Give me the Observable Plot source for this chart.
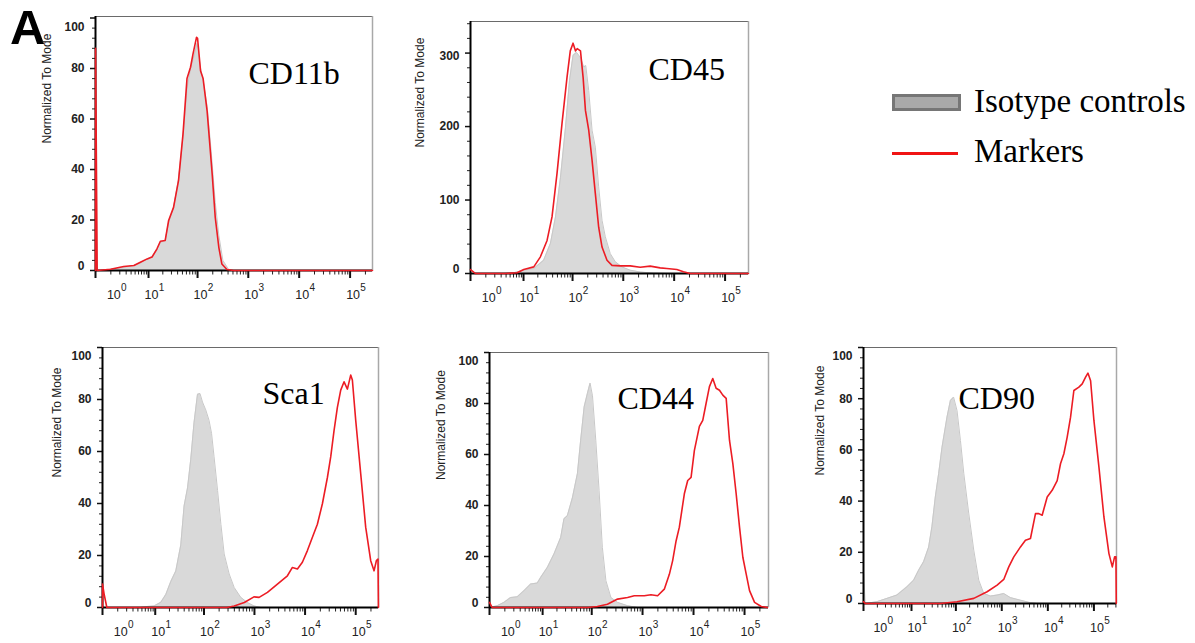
<!DOCTYPE html>
<html><head><meta charset="utf-8">
<script src="https://cdn.jsdelivr.net/npm/d3@7"></script>
<script src="https://cdn.jsdelivr.net/npm/@observablehq/plot@0.6"></script>
<style>
html,body{margin:0;padding:0;background:#fff;}
#fig{position:relative;width:1195px;height:643px;overflow:hidden;background:#fff;}
#fig .panel{position:absolute;}
.lbl{position:absolute;white-space:nowrap;color:#000;}
.serif{font-family:'Liberation Serif','Times New Roman',Times,serif;font-size:33px;line-height:33px;}
</style></head><body><div id="fig"></div>
<script>
// ---- data: [log10 fluorescence intensity, normalized count] ----
const cd11bIsotype = [[-0.6,0],[-0.01,0.5],[0.41,1.2],[0.67,2],[0.82,3],[0.97,4.5],[1.075,5.5],[1.18,8.5],[1.25,11],[1.35,12],[1.42,19],[1.52,25],[1.62,36],[1.71,53],[1.79,72],[1.86,80],[1.93,85],[1.99,90],[2.06,80],[2.12,74],[2.19,65],[2.27,47],[2.35,27],[2.42,14],[2.5,4],[2.61,0.5],[2.71,0]];
const cd11bMarker = [[-3,0],[-2.6,88],[-1.1,0],[-0.01,0.5],[0.41,1.6],[0.67,2],[0.82,3.3],[0.97,4.6],[1.075,5.3],[1.18,8.6],[1.25,11.6],[1.35,11.9],[1.42,19.8],[1.52,25],[1.62,35.6],[1.71,54],[1.79,76],[1.86,80.5],[1.91,85.8],[1.98,92.4],[2.0,92],[2.06,79],[2.11,76],[2.19,63],[2.29,38],[2.35,21],[2.42,9.2],[2.48,2.6],[2.58,0.4],[2.71,0],[5.44,0]];

const cd45Isotype = [[0.55,0],[0.784,1],[1.005,4.5],[1.217,6.8],[1.42,18],[1.558,41],[1.66,77],[1.76,131],[1.86,199],[1.94,263],[2.01,297],[2.078,301],[2.157,294],[2.222,281],[2.261,283],[2.32,249],[2.386,195],[2.45,172],[2.516,118],[2.582,72.5],[2.647,50],[2.745,27],[2.843,16],[2.974,9],[3.137,4.5],[3.333,2],[3.595,0.5],[3.856,0]];
const cd45Marker = [[-3,5.4],[-0.6,0],[0.585,0],[0.859,1],[1.005,5.4],[1.217,9],[1.354,22.7],[1.49,45],[1.59,77],[1.69,136],[1.79,204],[1.89,267],[1.955,303],[2.01,313.5],[2.059,303],[2.092,306],[2.157,303],[2.209,267],[2.255,222],[2.32,195],[2.386,154],[2.45,109],[2.516,63],[2.582,36],[2.68,18],[2.778,11],[2.941,10.4],[3.137,10.4],[3.333,8.6],[3.529,10],[3.725,7.7],[3.856,6.8],[4.052,5.4],[4.183,2.3],[4.314,0],[5.46,0]];

const sca1Isotype = [[0.67,0],[0.828,0.4],[0.977,0.6],[1.12,2],[1.225,5],[1.329,10],[1.431,14],[1.533,24],[1.6,39],[1.67,46],[1.735,57],[1.8,71],[1.87,82],[1.92,82.3],[1.97,79],[2.035,76],[2.1,72],[2.15,67],[2.2,58],[2.27,45],[2.336,32],[2.401,20.6],[2.5,12.9],[2.599,7.7],[2.73,3.9],[2.862,1.9],[2.993,0.6],[3.125,0]];
const sca1Marker = [[-3,0],[-2.6,9],[-1.1,5],[-0.66,0],[2.46,0],[2.6,0.6],[2.8,1.9],[2.99,4.1],[3.092,3.9],[3.257,5.8],[3.454,9],[3.651,12.2],[3.75,15.4],[3.849,14.8],[3.947,17.4],[4.046,21.9],[4.145,27],[4.243,32],[4.342,39.9],[4.441,50],[4.507,58],[4.572,68],[4.638,77],[4.704,83.6],[4.77,86.8],[4.836,84],[4.901,89.4],[4.934,87.5],[5.0,72],[5.099,51.4],[5.197,30.9],[5.296,18],[5.362,14.1],[5.408,18],[5.44,18.6],[5.449,0]];

const cd44Isotype = [[-3,0],[-2.6,97],[-1.6,0],[-0.38,0.7],[-0.04,2],[0.2,3.9],[0.398,4.2],[0.572,6.6],[0.732,9.2],[0.884,9.6],[0.957,11.8],[1.1,15.7],[1.24,21],[1.378,27.5],[1.445,34.8],[1.513,36],[1.615,43],[1.715,52.5],[1.78,65.6],[1.85,78.7],[1.915,84],[1.967,88],[2.015,83],[2.08,65.6],[2.145,46],[2.21,23.6],[2.28,10.5],[2.379,3.9],[2.51,2],[2.706,0.7],[2.903,0]];
const cd44Marker = [[-3,2],[-0.9,0],[1.915,0],[2.11,0.4],[2.31,1.3],[2.51,3.3],[2.706,3.9],[2.837,4.6],[3.034,4.6],[3.165,5],[3.296,4.6],[3.427,7.2],[3.526,13],[3.591,18.4],[3.657,26],[3.722,31.5],[3.82,44.6],[3.886,49.8],[3.952,51],[4.017,61.6],[4.115,71],[4.181,73.4],[4.246,80],[4.312,86.6],[4.377,89.8],[4.443,86],[4.509,85.2],[4.574,83.3],[4.64,82],[4.705,65.6],[4.771,56.4],[4.836,44.6],[4.902,31.5],[4.967,19.7],[5.033,13.1],[5.098,6.6],[5.197,2],[5.328,0.4],[5.45,0]];

const cd90Isotype = [[-3,0],[-2.6,11.7],[-1.05,0],[-0.02,0.7],[0.345,2],[0.634,3.3],[0.889,6.5],[1.05,9.1],[1.167,13],[1.281,16.3],[1.396,22],[1.47,30],[1.546,41.6],[1.62,50.7],[1.695,61],[1.805,72.8],[1.88,79.3],[1.95,80.6],[2.025,75.4],[2.1,63.7],[2.174,50.7],[2.283,35],[2.391,20.8],[2.5,9.1],[2.609,3.9],[2.754,2.9],[2.899,3.3],[3.043,3.9],[3.188,2.3],[3.406,1.3],[3.623,0.3],[3.768,0]];
const cd90Marker = [[-3,0.7],[-1.05,0],[1.66,0],[2.025,0.7],[2.391,2],[2.681,4.6],[2.899,7.2],[3.043,9.4],[3.152,14.3],[3.261,18.2],[3.406,22.1],[3.514,24.7],[3.623,25.4],[3.732,35.1],[3.804,35.1],[3.877,34.5],[3.986,41.6],[4.094,44.2],[4.203,48],[4.275,54.6],[4.348,58.5],[4.42,65],[4.493,72.8],[4.565,83.2],[4.674,84.5],[4.746,85.8],[4.819,88.4],[4.87,90],[4.928,87],[5.0,71.5],[5.109,53.3],[5.217,33.8],[5.326,19.5],[5.399,14.3],[5.449,18.2],[5.478,18.2],[5.485,0]];

// ---- labels / ticks ----
const panelNames = ["CD11b", "CD45", "Sca1", "CD44", "CD90"];
const xTickExponents = [0, 1, 2, 3, 4, 5];
const yTicksPercent = [0, 20, 40, 60, 80, 100];
const yTicksCD45 = [0, 100, 200, 300];
const yAxisTitle = "Normalized To Mode";
const legendLabels = ["Isotype controls", "Markers"];
const panelLetter = "A";

// ---- layout (pixels) ----
const layout = [
  {iso: cd11bIsotype, mk: cd11bMarker, left: 95, top: 16, w: 277, h: 254, yMax: 100.6, xMaxExp: 5.44, yTicks: yTicksPercent, yMinorStep: 4, titleX: 248, titleY: 83, labelDx: 48},
  {iso: cd45Isotype, mk: cd45Marker, left: 470, top: 21, w: 278, h: 252, yMax: 343, xMaxExp: 5.46, yTicks: yTicksCD45, yMinorStep: 20, titleX: 648, titleY: 79, labelDx: 50},
  {iso: sca1Isotype, mk: sca1Marker, left: 102, top: 347, w: 276, h: 260, yMax: 100, xMaxExp: 5.45, yTicks: yTicksPercent, yMinorStep: 4, titleX: 262, titleY: 403, labelDx: 45},
  {iso: cd44Isotype, mk: cd44Marker, left: 489, top: 352, w: 279, h: 255, yMax: 100, xMaxExp: 5.47, yTicks: yTicksPercent, yMinorStep: 4, titleX: 617, titleY: 408, labelDx: 48},
  {iso: cd90Isotype, mk: cd90Marker, left: 863, top: 347, w: 253, h: 256, yMax: 100, xMaxExp: 5.49, yTicks: yTicksPercent, yMinorStep: 4, titleX: 958, titleY: 408, labelDx: 43}
];

const fig = document.getElementById("fig");
const sansFont = "'Liberation Sans', Arial, Helvetica, sans-serif";
const serifFont = "'Liberation Serif', 'Times New Roman', Times, serif";
const RED = "#ec1c24";

function addDiv(cls, css, text) {
  const d = document.createElement("div");
  d.className = cls;
  Object.assign(d.style, css);
  if (text != null) d.textContent = text;
  fig.appendChild(d);
  return d;
}
addDiv("lbl", {left: "10px", top: "3px", fontFamily: sansFont, fontWeight: "bold", fontSize: "49px", lineHeight: "49px"}, panelLetter);
addDiv("lbl", {left: "892px", top: "94px", width: "69px", height: "17px", boxSizing: "border-box", background: "#a9a9a9", border: "3px solid #767676"});
addDiv("lbl", {left: "892px", top: "151.5px", width: "66px", height: "3px", background: "#f01414"});
addDiv("lbl serif", {left: "974px", top: "84.5px"}, legendLabels[0]);
addDiv("lbl serif", {left: "974px", top: "134.5px"}, legendLabels[1]);

layout.forEach((p, i) => {
  const mL = 62, mR = 12, mT = 14, mB = 44;
  const fx = d => 10 ** d[0];
  const fy = d => d[1];
  const xMax = 10 ** p.xMaxExp;
  const decades = xTickExponents.map(e => 10 ** e);
  const xMajor = [0, ...decades.slice(1)];
  const xMinor = [1];
  for (let k = 0; k <= 5; k++) for (let m = 2; m <= 9; m++) { const v = m * 10 ** k; if (v < xMax) xMinor.push(v); }
  const yMinor = d3.range(0, p.yMax, p.yMinorStep).filter(v => !p.yTicks.includes(v));
  const yBottom = p.yTicks.slice(0, 1);
  const yMid = p.yTicks.slice(1, -1);
  const yTop = p.yTicks.slice(-1);
  const topClamped = yTop[0] >= p.yMax - 2;
  const axisTextOpts = {tickSize: 0, tickPadding: 11, fontWeight: "bold", fill: "#222", fontSize: 12};
  const chart = Plot.plot({
    width: p.w + mL + mR, height: p.h + mT + mB,
    marginLeft: mL, marginRight: mR, marginTop: mT, marginBottom: mB,
    x: {type: "symlog", constant: 1, domain: [0, xMax], axis: null},
    y: {domain: [0, p.yMax], axis: null},
    style: {fontFamily: sansFont, fontSize: "12px", color: "#222", background: "transparent"},
    marks: [
      Plot.areaY(p.iso, {x: fx, y: fy, fill: "#d9d9d9"}),
      Plot.lineY(p.iso, {x: fx, y: fy, stroke: "#c8c8c8", strokeWidth: 1}),
      Plot.ruleY([p.yMax], {stroke: "#6a6a6a", strokeWidth: 1}),
      Plot.ruleX([xMax], {stroke: "#a8a8a8", strokeWidth: 1.5}),
      Plot.tickY(yMinor, {y: d => d, insetRight: p.w, insetLeft: -3, stroke: "#222", strokeWidth: 1}),
      Plot.tickY(p.yTicks, {y: d => d, insetRight: p.w, insetLeft: -5, stroke: "#111", strokeWidth: 1.5}),
      Plot.axisY({ticks: yBottom, dy: -4, ...axisTextOpts}),
      Plot.axisY({ticks: yMid, ...axisTextOpts}),
      Plot.axisY({ticks: yTop, dy: topClamped ? 9 : 3, ...axisTextOpts}),
      Plot.tickX(xMinor, {x: d => d, insetTop: p.h, insetBottom: -4.5, stroke: "#222", strokeWidth: 1}),
      Plot.tickX(xMajor, {x: d => d, insetTop: p.h, insetBottom: -8, stroke: "#111", strokeWidth: 2}),
      Plot.text(decades, {x: d => d, text: () => "10", frameAnchor: "bottom", dy: 28, dx: 3, fontSize: 12.5, fill: "#222"}),
      Plot.text(xTickExponents, {x: e => 10 ** e, text: e => String(e), frameAnchor: "bottom", dy: 20, dx: 13, fontSize: 10, fill: "#222"}),
      Plot.text([yAxisTitle], {frameAnchor: "left", rotate: -90, dx: -p.labelDx, fontSize: 12, fill: "#222"}),
      Plot.text([panelNames[i]], {frameAnchor: "top-left", dx: p.titleX - p.left, dy: p.titleY - p.top, textAnchor: "start", lineAnchor: "bottom", fontFamily: serifFont, fontSize: 32, fill: "#000"}),
      Plot.ruleX([0], {stroke: "#000", strokeWidth: 2}),
      Plot.ruleY([0], {stroke: "#000", strokeWidth: 2}),
      Plot.lineY(p.mk, {x: fx, y: fy, stroke: RED, strokeWidth: 1.6})
    ]
  });
  chart.classList.add("panel");
  chart.style.left = (p.left - mL) + "px";
  chart.style.top = (p.top - mT) + "px";
  fig.appendChild(chart);
});
</script>
</body></html>
